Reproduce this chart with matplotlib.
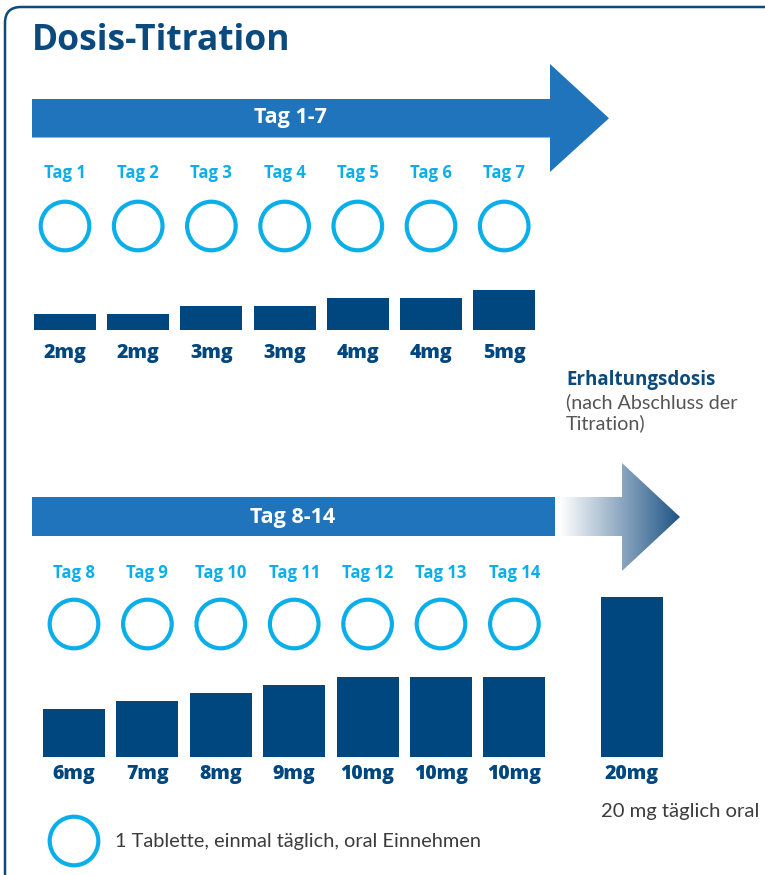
import matplotlib
matplotlib.use("Agg")
import matplotlib.pyplot as plt
import numpy as np
from matplotlib.patches import Circle, Polygon, FancyBboxPatch

# ---- data ----
days_1 = ["Tag 1", "Tag 2", "Tag 3", "Tag 4", "Tag 5", "Tag 6", "Tag 7"]
doses_1 = [2, 2, 3, 3, 4, 4, 5]
days_2 = ["Tag 8", "Tag 9", "Tag 10", "Tag 11", "Tag 12", "Tag 13", "Tag 14"]
doses_2 = [6, 7, 8, 9, 10, 10, 10]
maint_dose = 20
phase_1 = "Tag 1-7"
phase_2 = "Tag 8-14"

NAVY = "#00467f"
ARROW = "#1f74bb"
CYAN = "#0aaee8"
GRAY = "#3c3c3c"
FONT = ["Open Sans", "DejaVu Sans"]
LIGHT = ["Lato", "DejaVu Sans"]

W, H = 765, 875
fig = plt.figure(figsize=(W / 100, H / 100), dpi=100)
ax = fig.add_axes([0, 0, 1, 1])
ax.set_xlim(0, W)
ax.set_ylim(H, 0)
ax.axis("off")

# frame (open to right/bottom)
frame = FancyBboxPatch((5, 7), 820, 900, boxstyle="round,pad=0,rounding_size=16",
                       fc="none", ec="#0d4a7a", lw=1.8, zorder=1)
ax.add_patch(frame)

ax.text(32, 41, "Dosis-Titration", fontsize=25.5, fontweight="bold", color="#0b4a7e",
        family=FONT, va="center", ha="left")

def arrow(y0, y1, x0, xb, xtip, ytop, ybot, color):
    ym = (y0 + y1) / 2
    pts = [(x0, y0), (xb, y0), (xb, ytop), (xtip, ym), (xb, ybot), (xb, y1), (x0, y1)]
    ax.add_patch(Polygon(pts, closed=True, fc=color, ec="none", zorder=2))

# arrow 1
arrow(99, 137.5, 32, 550, 609, 64, 172, ARROW)
ax.text(290, 117, phase_1, fontsize=15.5, fontweight="bold", color="white",
        family=FONT, ha="center", va="center", zorder=3)

# arrow 2 (solid shaft + gradient arrow)
ax.add_patch(Polygon([(32, 497), (555, 497), (555, 536), (32, 536)], closed=True,
                     fc=ARROW, ec="none", zorder=2))
ax.text(293, 517, phase_2, fontsize=15.5, fontweight="bold", color="white",
        family=FONT, ha="center", va="center", zorder=3)
gx0, gxb, gxt = 560, 622, 680
gpts = [(gx0, 497), (gxb, 497), (gxb, 463), (gxt, 517), (gxb, 571), (gxb, 536), (gx0, 536)]
gpoly = Polygon(gpts, closed=True, fc="none", ec="none")
ax.add_patch(gpoly)
c0 = np.array([1.0, 1.0, 1.0])
c1 = np.array(matplotlib.colors.to_rgb("#1f5485"))
t = np.linspace(0, 1, 256)
grad = (c0[None, :] * (1 - t[:, None]) + c1[None, :] * t[:, None])[None, :, :]
im = ax.imshow(grad, extent=(gx0, gxt, 571, 463), aspect="auto", zorder=2,
               interpolation="bicubic")
im.set_clip_path(gpoly)
ax.set_xlim(0, W)
ax.set_ylim(H, 0)

# rows
PX_PER_MG = 8
row1_x = 65 + 73.2 * np.arange(len(days_1))
row2_x = 74 + 73.4 * np.arange(len(days_2))
bw = 62

def row(xs, days, doses, y_tag, y_circ, y_base, y_lab):
    ax.bar(xs, [-d * PX_PER_MG for d in doses], width=bw, bottom=y_base,
           color=NAVY, zorder=2)
    for x, d, ds in zip(xs, days, doses):
        ax.text(x, y_tag, d, fontsize=12, fontweight="bold", color=CYAN, family=FONT,
                ha="center", va="center")
        ax.add_patch(Circle((x, y_circ), 24.3, fc="none", ec=CYAN, lw=3, zorder=2))
        ax.text(x, y_lab, f"{ds}mg", fontsize=14, fontweight="heavy", color=NAVY,
                family=FONT, ha="center", va="center")

row(row1_x, days_1, doses_1, 173, 226, 329.7, 353)
row(row2_x, days_2, doses_2, 573, 624, 756.7, 774)

# maintenance
mx = 632
ax.bar([mx], [-maint_dose * PX_PER_MG], width=bw, bottom=756.7, color=NAVY, zorder=2)
ax.text(mx, 774, f"{maint_dose}mg", fontsize=14, fontweight="heavy", color=NAVY,
        family=FONT, ha="center", va="center")
ax.text(566, 380, "Erhaltungsdosis", fontsize=13.5, fontweight="bold", color="#0b4a7e",
        family=FONT, ha="left", va="center")
ax.text(566, 402, "(nach Abschluss der", fontsize=14.2, color="#555555",
        family=LIGHT, ha="left", va="center")
ax.text(566, 423, "Titration)", fontsize=14.2, color="#555555",
        family=LIGHT, ha="left", va="center")
ax.text(601, 811, f"{maint_dose} mg täglich oral", fontsize=14.6, color=GRAY,
        family=LIGHT, ha="left", va="center")

# legend
ax.add_patch(Circle((74, 841), 24.3, fc="none", ec=CYAN, lw=3, zorder=2))
ax.text(115, 842, "1 Tablette, einmal täglich, oral Einnehmen", fontsize=14.4, color=GRAY,
        family=LIGHT, ha="left", va="center")

fig.savefig("out.png", dpi=100)
